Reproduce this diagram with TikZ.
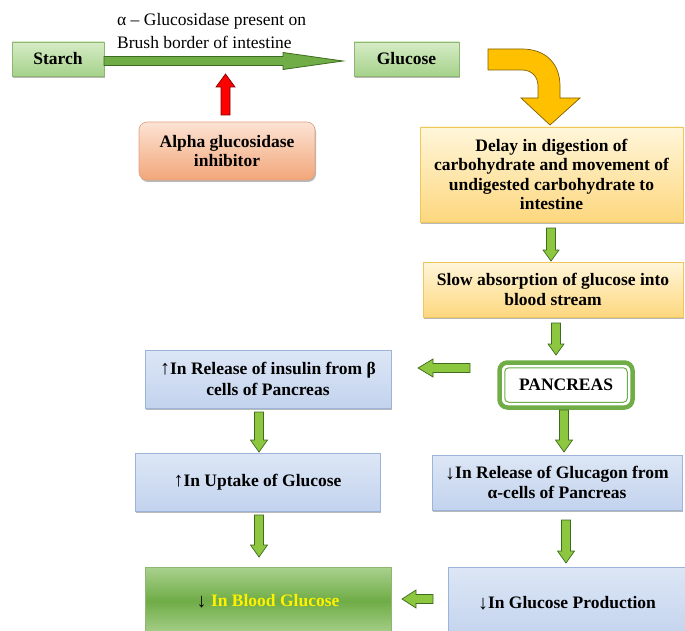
\documentclass[tikz,border=0pt]{standalone}
\usepackage{fontspec}
\setmainfont{Liberation Serif}
\usetikzlibrary{calc,shadows}
\definecolor{gA}{HTML}{D6ECC6}
\definecolor{gB}{HTML}{A5D28A}
\definecolor{gBord}{HTML}{8FB573}
\definecolor{oA}{HTML}{FCE3D4}
\definecolor{oB}{HTML}{F2A679}
\definecolor{oBord}{HTML}{E0A080}
\definecolor{yA}{HTML}{FFF6DA}
\definecolor{yB}{HTML}{FDD77E}
\definecolor{yBord}{HTML}{F0C75A}
\definecolor{bA}{HTML}{DCE6F5}
\definecolor{bB}{HTML}{C3D3EE}
\definecolor{bBord}{HTML}{9DB4DA}
\definecolor{dgA}{HTML}{A9D18E}
\definecolor{dgM}{HTML}{6FAC46}
\definecolor{pancG}{HTML}{70AD47}
\definecolor{arrG}{HTML}{8DC63F}
\definecolor{arrGd}{HTML}{3D6B1F}
\definecolor{longG}{HTML}{70AD47}
\definecolor{yelArr}{HTML}{FFC000}
\definecolor{yelArrD}{HTML}{7F6000}
\newcommand{\barrow}[6]{%
  \path[#1] let \p1=#2, \p2=#3, \n1={veclen(\x2-\x1,\y2-\y1)},
    \n2={(\x2-\x1)/(\n1)}, \n3={(\y2-\y1)/(\n1)}, \n4={\n1-#6} in
    ({\x1-(\n3)*#4},{\y1+(\n2)*#4})
    -- ({\x1+(\n2)*(\n4)-(\n3)*#4},{\y1+(\n3)*(\n4)+(\n2)*#4})
    -- ({\x1+(\n2)*(\n4)-(\n3)*#5},{\y1+(\n3)*(\n4)+(\n2)*#5})
    -- (\p2)
    -- ({\x1+(\n2)*(\n4)+(\n3)*#5},{\y1+(\n3)*(\n4)-(\n2)*#5})
    -- ({\x1+(\n2)*(\n4)+(\n3)*#4},{\y1+(\n3)*(\n4)-(\n2)*#4})
    -- ({\x1+(\n3)*#4},{\y1-(\n2)*#4}) -- cycle;}
\newcommand{\upa}{{\fontsize{20}{20}\selectfont ↑}}
\newcommand{\dna}{{\fontsize{20}{20}\selectfont\raisebox{-1pt}{↓}}}
\tikzset{
  box/.style={draw, line width=0.6pt, align=center, inner sep=2pt,
    font=\bfseries\fontsize{17.5}{19.5}\selectfont,
    drop shadow={shadow xshift=1pt, shadow yshift=-2pt, fill=black!55}},
  greenbox/.style={box, draw=gBord, top color=gA, bottom color=gB},
  orangebox/.style={box, draw=oBord, top color=oA, bottom color=oB, rounded corners=8pt},
  yellowbox/.style={box, draw=yBord, top color=yA, bottom color=yB},
  bluebox/.style={box, draw=bBord, top color=bA, bottom color=bB},
  bloodbox/.style={box, draw=gBord, top color=dgA, bottom color=dgA, middle color=dgM, text=yellow},
  pancbox/.style={draw=pancG, line width=4.5pt, rounded corners=8pt, fill=white,
    font=\bfseries\fontsize{17.5}{19.5}\selectfont},
  garrow/.style={fill=arrG, draw=arrGd, line width=0.7pt, line join=miter},
  lgarrow/.style={fill=longG, draw=arrGd, line width=0.8pt},
  rarrow/.style={fill=red, draw=red!50!black, line width=0.7pt},
  yarrow/.style={fill=yelArr, draw=yelArrD, line width=0.7pt},
  lbl/.style={align=left, inner sep=0pt, font=\fontsize{17.5}{23}\selectfont}
}
\begin{document}
\begin{tikzpicture}[x=1pt,y=-1pt]
\useasboundingbox (0,0) rectangle (685,631);
% boxes
\node[greenbox, minimum width=92, minimum height=34] (starch) at (58,59) {Starch};
\node[greenbox, minimum width=105, minimum height=34] (glucose) at (406.5,59) {Glucose};
\node[lbl, anchor=west] (enz) at (117,31) {α – Glucosidase present on\\Brush border of intestine};
\node[orangebox, minimum width=176, minimum height=58] (inhib) at (227,151) {Alpha glucosidase\\inhibitor};
\node[yellowbox, minimum width=263, minimum height=95] (delay) at (551.5,174.5)
  {Delay in digestion of\\carbohydrate and movement of\\undigested carbohydrate to\\intestine};
\node[yellowbox, minimum width=260, minimum height=55] (slow) at (553,289.5)
  {Slow absorption of glucose into\\blood stream};
\node[pancbox, minimum width=133, minimum height=45] (panc) at (566,385) {PANCREAS};
\draw[pancG, line width=1pt, rounded corners=4pt]
  ($(panc.north west)+(7.5,7.5)$) rectangle ($(panc.south east)+(-7.5,-7.5)$);
\node[bluebox, minimum width=246, minimum height=58] (insulin) at (268,379)
  {\upa In Release of insulin from β\\[1pt]cells of Pancreas};
\node[bluebox, minimum width=245, minimum height=58] (uptake) at (257.5,482)
  {\upa In Uptake of Glucose};
\node[bloodbox, minimum width=246, minimum height=68] (blood) at (268,601)
  {{\color{black}\dna} In Blood Glucose};
\node[bluebox, minimum width=250, minimum height=55] (glucagon) at (557,482.5)
  {\dna In Release of Glucagon from\\[1pt]α-cells of Pancreas};
\node[bluebox, minimum width=238, minimum height=72] (prod) at (567,603)
  {\dna In Glucose Production};
% arrow end points
\coordinate (a0s) at (104,61);  \coordinate (a0e) at (343,61);
\coordinate (r0s) at (225.5,115); \coordinate (r0e) at (225.5,74);
\coordinate (a1s) at (551,228); \coordinate (a1e) at (551,261);
\coordinate (a2s) at (556,323); \coordinate (a2e) at (556,355);
\coordinate (a3s) at (470,368); \coordinate (a3e) at (418,368);
\coordinate (a4s) at (564,410); \coordinate (a4e) at (564,452);
\coordinate (a5s) at (259,412); \coordinate (a5e) at (259,452);
\coordinate (a6s) at (259,515); \coordinate (a6e) at (259,557);
\coordinate (a7s) at (566,520); \coordinate (a7e) at (566,563);
\coordinate (a8s) at (433,599); \coordinate (a8e) at (402,599);
% connectors
\barrow{lgarrow}{(a0s)}{(a0e)}{4.5}{8.5}{60}
\barrow{rarrow}{(r0s)}{(r0e)}{4.5}{9.5}{13}
\barrow{garrow}{(a1s)}{(a1e)}{4.5}{8}{11}
\barrow{garrow}{(a2s)}{(a2e)}{4.5}{8}{11}
\barrow{garrow}{(a3s)}{(a3e)}{4.5}{9}{15}
\barrow{garrow}{(a4s)}{(a4e)}{4.5}{8.5}{12}
\barrow{garrow}{(a5s)}{(a5e)}{4.5}{8.5}{12}
\barrow{garrow}{(a6s)}{(a6e)}{4.5}{8.5}{12}
\barrow{garrow}{(a7s)}{(a7e)}{4.5}{8.5}{12}
\barrow{garrow}{(a8s)}{(a8e)}{4.5}{9}{14}
% curved yellow arrow
\draw[yarrow] (488,49) -- (522,49) .. controls (546,49) and (560,64) .. (560,86)
  -- (560,98) -- (580,98) -- (550,125) -- (521,98) -- (538,98) -- (538,86)
  .. controls (538,77) and (532,70) .. (522,70) -- (488,70) -- cycle;
\end{tikzpicture}
\end{document}
